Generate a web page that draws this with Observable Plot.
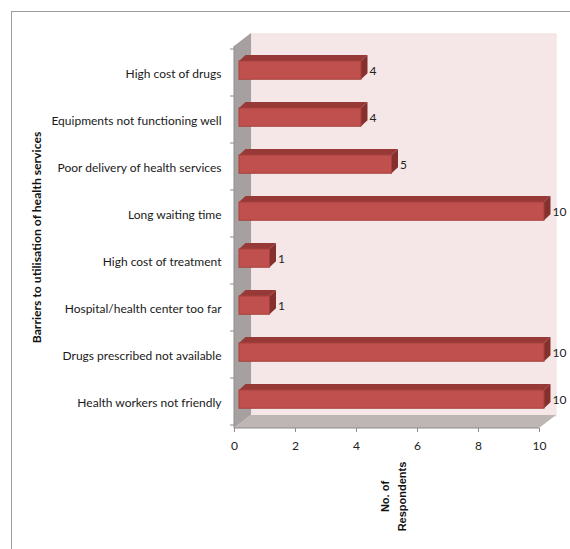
<!DOCTYPE html>
<html>
<head>
<meta charset="utf-8">
<script src="https://cdn.jsdelivr.net/npm/d3@7"></script>
<script src="https://cdn.jsdelivr.net/npm/@observablehq/plot@0.6"></script>
<style>
  html, body { margin: 0; padding: 0; background: #fff; }
  #wrap { position: relative; width: 570px; height: 549px; overflow: hidden; }
  #wrap svg { display: block; }
  #border { position: absolute; left: 11px; top: 11px; width: 700px; height: 700px;
            border-top: 1.5px solid #9c9c9c; border-left: 1.5px solid #9c9c9c; pointer-events: none; }
</style>
</head>
<body>
<div id="wrap"><div id="border"></div></div>
<script>
const categories = [
  "High cost of drugs",
  "Equipments not functioning well",
  "Poor delivery of health services",
  "Long waiting time",
  "High cost of treatment",
  "Hospital/health center too far",
  "Drugs prescribed not available",
  "Health workers not friendly"
];
const respondents = [4, 4, 5, 10, 1, 1, 10, 10];
const xTicks = [0, 2, 4, 6, 8, 10];
const yTitle = "Barriers to utilisation of health services";
const xTitle = "No. of\nRespondents";

const data = categories.map((c, i) => ({category: c, value: respondents[i]}));

// 3D walls + axis lines drawn from the scales
function walls(index, scales, values, dim) {
  const x0 = scales.x(0), x1 = scales.x(10);
  const y0 = dim.marginTop, y1 = dim.height - dim.marginBottom;
  const dx = 17, dy = -13;
  const g = d3.create("svg:g");
  g.append("rect").attr("x", x0 + dx).attr("y", y0 + dy + 1).attr("width", x1 - x0).attr("height", y1 - y0)
    .attr("fill", "#f5e7e7").attr("stroke", "#f0dede").attr("stroke-width", 1);
  g.append("polygon")
    .attr("points", [[x0, y0], [x0 + dx, y0 + dy], [x0 + dx, y1 + dy], [x0, y1]].join(" "))
    .attr("fill", "#a6a0a0");
  g.append("polygon")
    .attr("points", [[x0, y1], [x0 + dx, y1 + dy], [x1 + dx, y1 + dy], [x1, y1]].join(" "))
    .attr("fill", "#beb5b5");
  g.append("line").attr("x1", x0).attr("x2", x0).attr("y1", y0).attr("y2", y1).attr("stroke", "#8c8c8c");
  g.append("line").attr("x1", x0).attr("x2", x1).attr("y1", y1).attr("y2", y1).attr("stroke", "#8c8c8c");
  const edges = scales.y.domain().map(c => scales.y(c));
  edges.push(edges[edges.length - 1] + scales.y.bandwidth());
  for (const e of edges) {
    g.append("line").attr("x1", x0 - 4).attr("x2", x0).attr("y1", e).attr("y2", e).attr("stroke", "#8c8c8c");
  }
  return g.node();
}

// 3D bars: front face, top face, side face
function bars3d(index, scales, values) {
  const bw = scales.y.bandwidth();
  const off = 5, ddx = 6.5, ddy = -6;
  const g = d3.create("svg:g");
  for (const i of index) {
    const xa = Math.min(values.x1[i], values.x2[i]) + off;
    const xb = Math.max(values.x1[i], values.x2[i]) + off;
    const yt = values.y[i] + 12, yb = values.y[i] + bw - 16.75;
    g.append("polygon")
      .attr("points", [[xa, yt], [xb, yt], [xb + ddx, yt + ddy], [xa + ddx, yt + ddy]].join(" "))
      .attr("fill", "#973a37");
    g.append("polygon")
      .attr("points", [[xb, yt], [xb + ddx, yt + ddy], [xb + ddx, yb + ddy], [xb, yb]].join(" "))
      .attr("fill", "#86302d");
    g.append("rect").attr("x", xa).attr("y", yt).attr("width", xb - xa).attr("height", yb - yt)
      .attr("fill", "#c0504d").attr("stroke", "#a5413e").attr("stroke-width", 1);
  }
  return g.node();
}

const chart = Plot.plot({
  width: 570,
  height: 549,
  marginLeft: 234,
  marginRight: 31,
  marginTop: 46,
  marginBottom: 121,
  style: {fontFamily: "Lato, sans-serif", fontSize: "12px", color: "#222", background: "transparent"},
  x: {domain: [0, 10]},
  y: {domain: categories, padding: 0},
  marks: [
    Plot.frame({render: walls}),
    Plot.barX(data, {x: "value", y: "category", render: bars3d}),
    Plot.text(data, {x: "value", y: "category", text: d => String(d.value), textAnchor: "start",
      dx: 13, dy: -2, fontSize: 12, fill: "#222"}),
    Plot.axisY({tickSize: 0, tickPadding: 13, fontSize: 12, dy: 1, label: null, fill: "#1a1a1a"}),
    Plot.axisX({ticks: xTicks, tickSize: 4, tickPadding: 9, fontSize: 12, stroke: "#8c8c8c", label: null, fill: "#222"}),
    Plot.text([yTitle], {frameAnchor: "left", textAnchor: "middle", lineAnchor: "middle", dx: -197, rotate: -90,
      fontWeight: "bold", fontSize: 12.2, fill: "#111"}),
    Plot.text([xTitle], {frameAnchor: "bottom", textAnchor: "middle", lineAnchor: "middle", dx: 5, dy: 68, rotate: -90,
      fontWeight: "bold", fontSize: 11, lineHeight: 1.5, fontFamily: "Liberation Sans, Arial, sans-serif", fill: "#111"})
  ]
});
document.getElementById("wrap").prepend(chart);
</script>
</body>
</html>
